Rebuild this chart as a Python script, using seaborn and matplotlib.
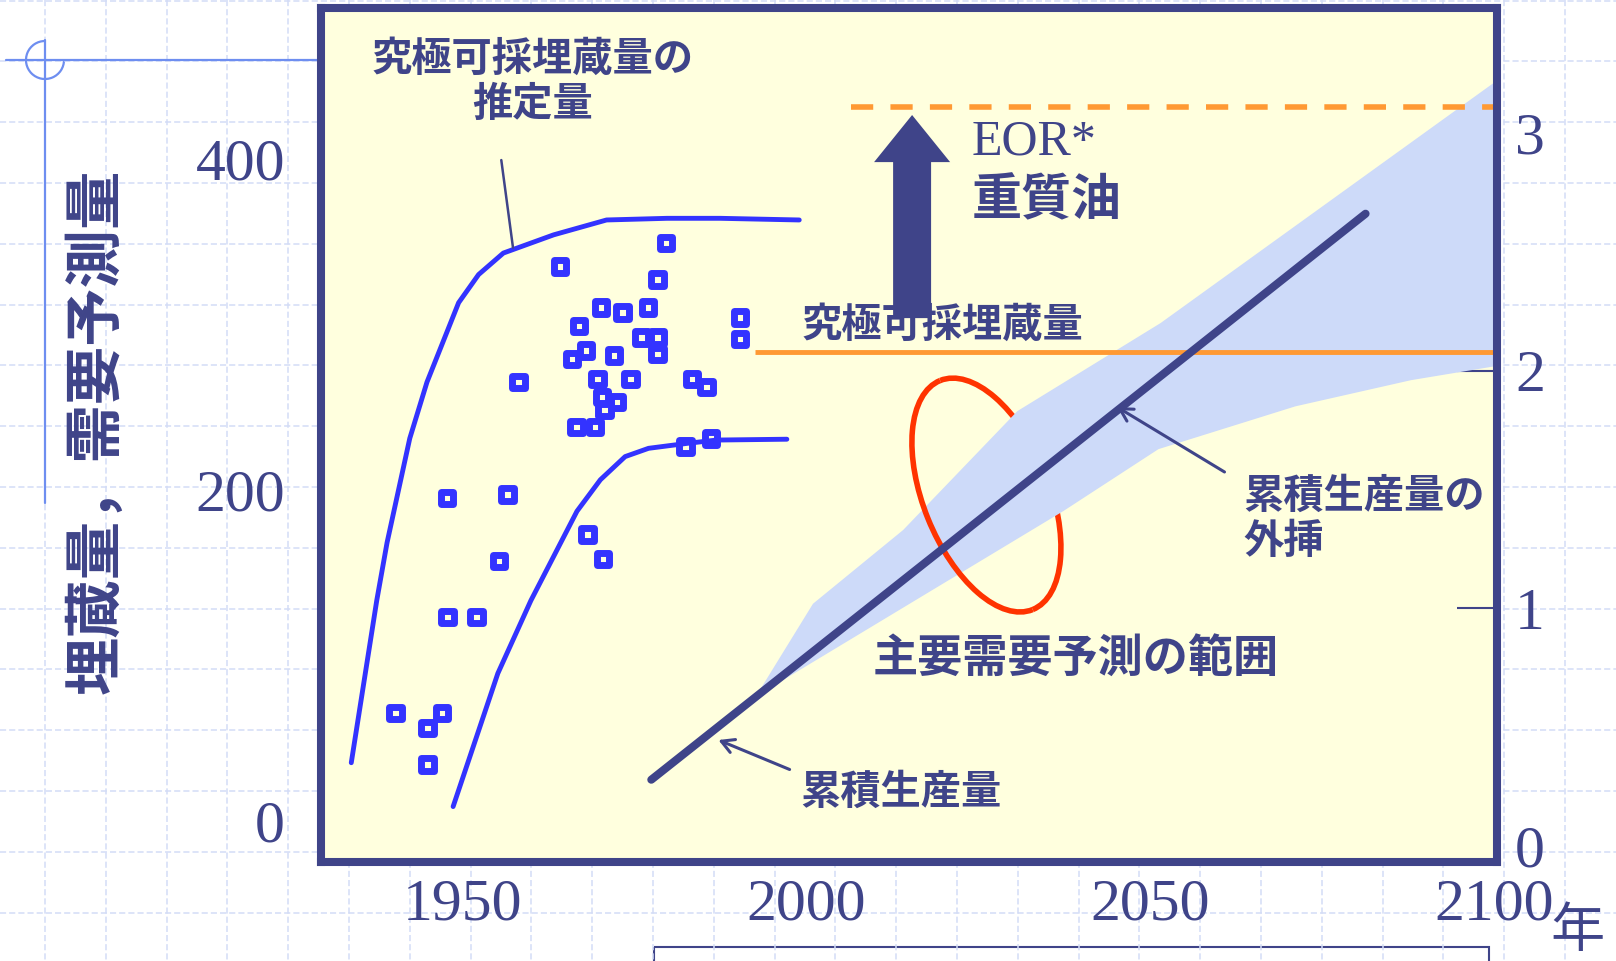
import numpy as np
import matplotlib
matplotlib.use("Agg")
import matplotlib.pyplot as plt
import matplotlib.transforms as mtransforms
from matplotlib.patches import Arc, Rectangle, FancyArrow
from matplotlib.ticker import FixedLocator, FixedFormatter
import seaborn as sns

# ---------------- data ----------------
# Estimated ultimately recoverable reserves over time (left axis, upper curve)
est_year = [1933.9, 1937.6, 1939.1, 1942.4, 1944.9, 1949.5, 1952.4, 1956.0,
            1963.3, 1971.0, 1979.8, 1987.5, 1999.0]
est_value = [35, 133, 168, 231, 265, 313, 330, 343, 354, 363, 364, 364, 363]

# Lower curve (left axis)
low_year = [1948.7, 1955.2, 1960.0, 1966.7, 1970.1, 1973.7, 1977.1, 1982.7,
            1987.0, 1997.2]
low_value = [8.5, 89, 133, 187, 206, 220, 225, 228, 230, 230.5]

# Individual published estimates (left axis, square markers)
pt_year = [1964.2, 1979.6, 1978.4, 1970.2, 1973.3, 1977.0, 1967.0, 1976.1,
           1978.4, 1968.0, 1966.0, 1972.1, 1978.4, 1990.4, 1990.4, 1958.2,
           1969.7, 1974.5, 1983.4, 1985.5, 1970.3, 1972.5, 1970.7, 1966.6,
           1969.3, 1982.5, 1986.2, 1947.8, 1956.6, 1968.2, 1955.4, 1970.5,
           1947.9, 1952.1, 1940.3, 1945.0, 1947.1, 1945.0]
pt_value = [335, 349, 327, 310, 307, 310, 299, 292,
            292, 284, 279, 281, 282, 304, 291, 265,
            267, 267, 267, 262, 256, 253, 248, 238,
            238, 226, 231, 195, 197, 173, 157, 158,
            123, 123, 65, 56, 65, 34]

# Cumulative production and its extrapolation (right axis)
cum_year = [1977.5, 2081.3]
cum_value = [0.28, 2.66]

# Range of major demand forecasts (right axis)
band_up_year = [1992.7, 2001.0, 2014.1, 2030.7, 2051.5, 2100.4]
band_up_value = [0.63, 1.02, 1.33, 1.83, 2.20, 3.22]
band_lo_year = [1992.7, 2037.4, 2051.2, 2071.1, 2087.9, 2100.4]
band_lo_value = [0.63, 1.41, 1.67, 1.85, 1.96, 2.02]

# Ultimate recoverable reserve and the level including EOR / heavy oil
ult_reserve = 2.08
ult_start = 1992.6
eor_reserve = 3.11
eor_start = 2006.5

x_ticks = [1950, 2000, 2050, 2100]
x_tick_labels = ["1950", "2000", "2050", "2100"]
left_ticks = [0, 200, 400]
left_tick_labels = ["0", "200", "400"]
right_ticks = [1, 2, 3]
right_tick_labels = ["1", "2", "3"]

# ---------------- style ----------------
NAVY = "#3F4489"
BLUE = "#3333FF"
ORANGE = "#FF9933"
RED = "#FF3300"
BAND = "#CDDAF9"
PANEL = "#FFFFDE"
GRID = "#D3DCF6"
DECO = "#6E8EF0"
CJK = "Noto Sans CJK JP"
SERIF = "Liberation Serif"

sns.set_theme(style="white")
plt.rcParams["font.family"] = [CJK, "DejaVu Sans"]

W, H = 1616, 961
fig = plt.figure(figsize=(W / 100, H / 100), dpi=100, facecolor="white")

# background sheet: dashed grid and decorative rules (pixel coordinates)
bg = fig.add_axes([0, 0, 1, 1])
bg.set_xlim(0, W)
bg.set_ylim(H, 0)
bg.axis("off")
bg.set_zorder(-5)
for gx in np.arange(45, W, 60.8):
    bg.plot([gx, gx], [0, H], color=GRID, lw=1.1, ls=(0, (4, 2)))
for gy in np.arange(0.5, H, 60.8):
    bg.plot([0, W], [gy, gy], color=GRID, lw=1.1, ls=(0, (4, 2)))
bg.plot([6, 318], [60, 60], color=DECO, lw=1.6)
bg.plot([45, 45], [40, 503], color=DECO, lw=1.6)
bg.add_patch(Arc((45, 60), 38, 38, theta1=0, theta2=270, color=DECO, lw=1.6))
bg.add_patch(Rectangle((654, 947), 835, 40, fill=False, ec=NAVY, lw=1.5))

# main panel
ax = fig.add_axes([321 / W, (H - 862) / H, (1497 - 321) / W, (862 - 8) / H])
ax.set_facecolor(PANEL)
ax2 = ax.twinx()

# left-axis series
sns.lineplot(x=est_year, y=est_value, ax=ax, color=BLUE, lw=3.5,
             sort=False, estimator=None, zorder=2)
sns.lineplot(x=low_year, y=low_value, ax=ax, color=BLUE, lw=3.5,
             sort=False, estimator=None, zorder=2)
sns.scatterplot(x=pt_year, y=pt_value, ax=ax, marker="s", s=80,
                color="none", edgecolor=BLUE, linewidth=5.0, zorder=3)
ax.collections[-1].set_facecolor("none")

# right-axis series
ax2.fill(band_up_year + band_lo_year[::-1], band_up_value + band_lo_value[::-1],
         color=BAND, lw=0, zorder=1)
ax2.hlines(ult_reserve, ult_start, 2101, color=ORANGE, lw=3.5, zorder=1.8)
ax2.hlines(eor_reserve, eor_start, 2101, color=ORANGE, lw=4.0,
           linestyles=(0, (4.0, 3.1)), zorder=1.8)
sns.lineplot(x=cum_year, y=cum_value, ax=ax2, color=NAVY, lw=5.8,
             sort=False, estimator=None, zorder=2.2)

# forecast ring around the band: back half behind the band, front half over it
ring_trans = fig.dpi_scale_trans + mtransforms.ScaledTranslation(2026.2, 1.477, ax2.transData)
ax2.add_patch(Arc((0, 0), 2.47, 1.26, angle=-68, theta1=0, theta2=180,
                  transform=ring_trans, color=RED, lw=4.0, zorder=0.8))
ax2.add_patch(Arc((0, 0), 2.47, 1.26, angle=-68, theta1=180, theta2=360,
                  transform=ring_trans, color=RED, lw=4.0, zorder=1.5))

# upward arrow from ultimate reserve towards the EOR level
ax2.add_patch(FancyArrow(2015.4, 2.221, 0, 0.854, width=5.52, head_width=11.05,
                         head_length=0.198, length_includes_head=True,
                         fc=NAVY, ec="none", zorder=2.5))

# annotations
tkw = dict(color=NAVY, fontfamily=[CJK, "DejaVu Sans"], fontweight="bold", zorder=4)
ax.plot([1955.7, 1957.4], [399.2, 346.3], color=NAVY, lw=1.8, zorder=2.5)
ax.text(1960.2, 446.5, "究極可採埋蔵量の\n推定量", ha="center", va="center",
        fontsize=29, linespacing=1.15, multialignment="center", **tkw)
ax2.text(2024.0, 2.907, "EOR*", ha="left", va="baseline", fontsize=36,
         fontfamily=SERIF, color=NAVY, zorder=4)
ax2.text(2024.0, 2.713, "重質油", ha="left", va="center", fontsize=36, **tkw)
ax2.text(1999.3, 2.192, "究極可採埋蔵量", ha="left", va="center", fontsize=29, **tkw)
ax2.text(2063.5, 1.376, "累積生産量の\n外挿", ha="left", va="center",
         fontsize=29, linespacing=1.15, multialignment="left", **tkw)
ax2.text(2039.2, 0.787, "主要需要予測の範囲", ha="center", va="center",
         fontsize=32.5, **tkw)
ax2.text(2013.7, 0.226, "累積生産量", ha="center", va="center", fontsize=29, **tkw)

akw = dict(arrowstyle="->,head_length=0.45,head_width=0.25", color=NAVY,
           lw=2.2, shrinkA=0, shrinkB=0, mutation_scale=20)
ax2.annotate("", xy=(1987.25, 0.447), xytext=(1997.6, 0.323), arrowprops=akw, zorder=3)
ax2.annotate("", xy=(2045.2, 1.847), xytext=(2060.8, 1.574), arrowprops=akw, zorder=3)

# axes, ticks, labels
ax.set_xlim(1929.5, 2100.4)
ax.set_ylim(-25.0, 491.1)
ax2.set_ylim(-0.066, 3.525)

ax.set_xticks(x_ticks)
ax.set_xticklabels(x_tick_labels)
ax.set_yticks(left_ticks)
ax.set_yticklabels(left_tick_labels)
ax.tick_params(axis="x", length=0, pad=12, labelsize=43, labelcolor=NAVY,
               labelfontfamily=SERIF)
ax.tick_params(axis="y", length=0, pad=26, labelsize=43, labelcolor=NAVY,
               labelfontfamily=SERIF, right=False)

ax2.yaxis.set_major_locator(FixedLocator(right_ticks))
ax2.yaxis.set_major_formatter(FixedFormatter(right_tick_labels))
ax2.yaxis.set_minor_locator(FixedLocator([0]))
ax2.yaxis.set_minor_formatter(FixedFormatter(["0"]))
ax2.tick_params(axis="y", which="major", direction="in", length=29, width=1.5,
                color=NAVY, pad=13, labelsize=43, labelcolor=NAVY,
                labelfontfamily=SERIF)
ax2.tick_params(axis="y", which="minor", direction="in", length=0, pad=13,
                labelsize=43, labelcolor=NAVY, labelfontfamily=SERIF)
ax2.grid(False)
ax.grid(False)

for s in ax.spines.values():
    s.set_visible(False)
for s in ax2.spines.values():
    s.set_visible(True)
    s.set_color(NAVY)
    s.set_linewidth(5.8)
    s.set_capstyle("projecting")

ax.set_ylabel("埋蔵量，需要予測量", fontsize=42, fontweight="bold", color=NAVY,
              fontfamily=[CJK, "DejaVu Sans"])
ax.yaxis.set_label_coords(-0.1913, 0.5047)
ax.yaxis.label.set_verticalalignment("center")
ax.set_xlabel("年", fontsize=39, color=NAVY, fontfamily=[CJK, "DejaVu Sans"])
ax.xaxis.set_label_coords(1.0685, -0.0815)
ax.xaxis.label.set_verticalalignment("center")

fig.savefig("out.png", dpi=100, facecolor="white")
